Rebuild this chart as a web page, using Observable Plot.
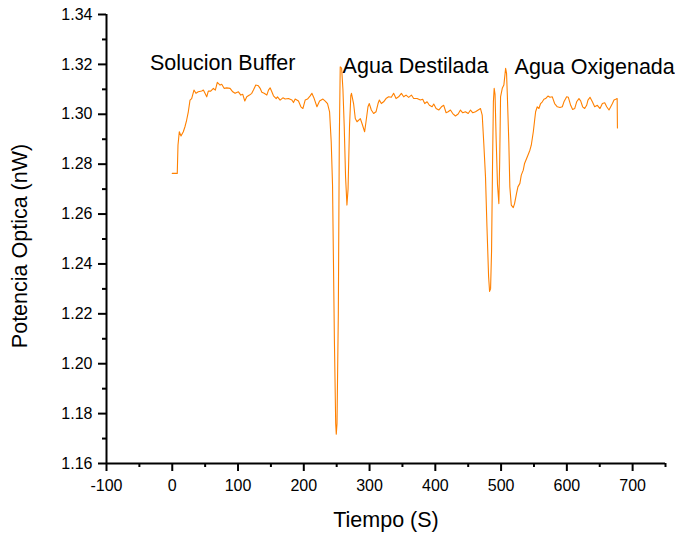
<!DOCTYPE html>
<html>
<head>
<meta charset="utf-8">
<script src="https://cdn.jsdelivr.net/npm/d3@7"></script>
<script src="https://cdn.jsdelivr.net/npm/@observablehq/plot@0.6"></script>
<style>
  html, body { margin: 0; padding: 0; background: #fff; }
  svg { display: block; }
</style>
</head>
<body>
<div id="chart"></div>
<script>
const times = [
  0, 7.6, 8.7, 10.7, 13.3, 16.8, 19.3, 21.9, 24.4, 27, 29.5, 33, 36, 39.6, 44.8, 47.3, 49.8, 52.4, 54.8, 58.5,
  62.5, 65.5, 68.5, 72.7, 75.2, 78.8, 82.9, 87.9, 92, 95.5, 100.6, 104.2, 107.2, 110.3, 113.3, 117.4, 120.9, 123.4,
  127, 131, 133.6, 136.2, 139.7, 143.8, 146.3, 148.8, 151.4, 153.9, 158, 160, 164, 168.2, 171.7, 176.7, 181.9,
  184.3, 186.9, 191.9, 195.6, 198.6, 202.1, 205.6, 209.7, 212.3, 215.8, 220, 224, 229.1, 232.6, 236.1, 239.2,
  241.7, 243.7, 246.5, 248.5, 249.4, 250.5, 252.5, 254, 255.4, 257.5, 259.5, 261.5, 263.5, 265.6, 267.3, 269.5,
  271.5, 272.5, 275.7, 278.3, 280.9, 283.3, 285.9, 288.5, 292.5, 294.6, 297.6, 299.6, 302.7, 306.2, 309.8, 312.9,
  314.9, 317.9, 321.4, 325, 329, 333.1, 336.6, 340.3, 344.2, 348.4, 351.9, 355.5, 359.5, 363.6, 367.1, 372.3,
  377.3, 380.8, 383.9, 387.5, 391, 395.1, 397.6, 401.2, 405.2, 409.3, 412.8, 416.4, 419.5, 423, 426.5, 430.6,
  434.7, 438.2, 441.7, 445.8, 450, 453.5, 457, 461.1, 465.2, 468.7, 471.3, 473.7, 476.3, 478.5, 481, 482.5, 484,
  485.5, 487, 488.3, 489.5, 490.8, 492.5, 494.5, 496.6, 497.8, 499.2, 501.8, 504.2, 506.9, 508.3, 509.4, 511.8,
  513.3, 515.5, 518.5, 520.5, 523.5, 525.6, 528.6, 530.7, 533.7, 535.7, 538.8, 540.8, 543.8, 545.9, 549, 551,
  552.5, 555, 557.5, 560.1, 562.7, 565.1, 567.7, 571.2, 574.3, 577.9, 581.4, 585.5, 589.5, 593.1, 595.6, 599.7,
  602.3, 605.8, 608.8, 611.9, 614.9, 618.4, 621, 624, 627.1, 630.1, 632.1, 635.2, 638.8, 642.3, 646.4, 650.4,
  654, 657.6, 660.6, 664.1, 666.7, 669.3, 671.7, 674.3, 676.5, 676.9
];
const power = [
  1.2763, 1.2763, 1.2876, 1.2930, 1.2913, 1.2930, 1.2950, 1.2977, 1.3010, 1.3057, 1.3063, 1.3097, 1.3084, 1.3090, 1.3093, 1.3097, 1.3084, 1.3070, 1.3093, 1.3093,
  1.3104, 1.3097, 1.3128, 1.3117, 1.3120, 1.3104, 1.3106, 1.3104, 1.3090, 1.3084, 1.3090, 1.3077, 1.3080, 1.3053, 1.3070, 1.3077, 1.3084, 1.3097,
  1.3117, 1.3114, 1.3104, 1.3088, 1.3084, 1.3077, 1.3097, 1.3106, 1.3090, 1.3074, 1.3063, 1.3070, 1.3057, 1.3066, 1.3061, 1.3063, 1.3057,
  1.3047, 1.3061, 1.3053, 1.3030, 1.3023, 1.3057, 1.3061, 1.3074, 1.3084, 1.3063, 1.3030, 1.3053, 1.3061, 1.3053, 1.3043, 1.3010,
  1.2889, 1.2716, 1.2100, 1.1760, 1.1717, 1.1760, 1.2200, 1.2900, 1.3190, 1.3185, 1.3100, 1.2950, 1.2750, 1.2636, 1.2700, 1.2950,
  1.3075, 1.3084, 1.3043, 1.2983, 1.2970, 1.2976, 1.2983, 1.2963, 1.2930, 1.2970, 1.3030, 1.3043, 1.3017, 1.3003, 1.3010, 1.3043,
  1.3057, 1.3043, 1.3050, 1.3063, 1.3070, 1.3068, 1.3084, 1.3063, 1.3070, 1.3084, 1.3070, 1.3077, 1.3068, 1.3077, 1.3063, 1.3063,
  1.3057, 1.3060, 1.3043, 1.3050, 1.3036, 1.3030, 1.3041, 1.3023, 1.3017, 1.3030, 1.3036, 1.3006, 1.3010, 1.3017, 1.3003, 1.2993,
  1.3001, 1.3017, 1.3006, 1.3010, 1.3003, 1.3017, 1.3006, 1.3010, 1.3017, 1.3023, 1.2997, 1.2883, 1.2749, 1.2550, 1.2350, 1.2290, 1.2300,
  1.2450, 1.2800, 1.3050, 1.3104, 1.3080, 1.2900, 1.2720, 1.2642, 1.2800, 1.3070, 1.3104, 1.3117, 1.3184, 1.3164, 1.3084, 1.2883,
  1.2709, 1.2636, 1.2626, 1.2642, 1.2683, 1.2709, 1.2723, 1.2756, 1.2776, 1.2803, 1.2823, 1.2836, 1.2856, 1.2876, 1.2930, 1.2976,
  1.3010, 1.3030, 1.3023, 1.3043, 1.3050, 1.3060, 1.3063, 1.3073, 1.3068, 1.3070, 1.3043, 1.3030, 1.3027, 1.3030, 1.3050, 1.3070,
  1.3068, 1.3036, 1.3019, 1.3023, 1.3050, 1.3063, 1.3054, 1.3030, 1.3023, 1.3036, 1.3057, 1.3068, 1.3050, 1.3030, 1.3036, 1.3023,
  1.3043, 1.3046, 1.3030, 1.3017, 1.3030, 1.3043, 1.3057, 1.3060, 1.3063, 1.2945
];

const xTicks = [-100, 0, 100, 200, 300, 400, 500, 600, 700];
const xMinorTicks = [-50, 50, 150, 250, 350, 450, 550, 650, 750];
const yTicks = [1.16, 1.18, 1.20, 1.22, 1.24, 1.26, 1.28, 1.30, 1.32, 1.34];
const yMinorTicks = [1.17, 1.19, 1.21, 1.23, 1.25, 1.27, 1.29, 1.31, 1.33];

const labels = ["Solucion Buffer", "Agua Destilada", "Agua Oxigenada"];
const labelTimes = [-34, 259, 520.5];
const labelPower = [1.3177, 1.3166, 1.3163];

const xTitle = "Tiempo (S)";
const yTitle = "Potencia Optica (nW)";

const series = times.map((t, i) => ({t, v: power[i]}));
const notes = labels.map((s, i) => ({s, t: labelTimes[i], v: labelPower[i]}));

const FONT = "'Liberation Sans', Arial, sans-serif";

const chart = Plot.plot({
  width: 675,
  height: 535,
  marginLeft: 106,
  marginRight: 10,
  marginTop: 14,
  marginBottom: 72,
  style: {fontFamily: FONT, background: "#fff", color: "#000", overflow: "visible"},
  x: {domain: [-100, 750]},
  y: {domain: [1.16, 1.34]},
  marks: [
    Plot.line(series, {x: "t", y: "v", stroke: "#ff8000", strokeWidth: 1.1}),
    Plot.axisX(xTicks, {tickSize: 8, tickPadding: 8, strokeWidth: 2, fontSize: 16, tickFormat: d => String(d), label: null}),
    Plot.axisX(xMinorTicks, {tickSize: 4, strokeWidth: 2, tickFormat: () => "", label: null}),
    Plot.axisY(yTicks, {tickSize: 8, tickPadding: 6, strokeWidth: 2, fontSize: 16, tickFormat: d => d.toFixed(2), label: null}),
    Plot.axisY(yMinorTicks, {tickSize: 4, strokeWidth: 2, tickFormat: () => "", label: null}),
    Plot.ruleY([1.16], {stroke: "#000", strokeWidth: 2}),
    Plot.ruleX([-100], {stroke: "#000", strokeWidth: 2}),
    Plot.text(notes, {x: "t", y: "v", text: "s", textAnchor: "start", lineAnchor: "bottom", fontSize: 21.5, fill: "#000"}),
    Plot.text([xTitle], {frameAnchor: "bottom", text: d => d, textAnchor: "middle", lineAnchor: "bottom", dy: 63, fontSize: 21.5, fill: "#000"}),
    Plot.text([yTitle], {frameAnchor: "left", text: d => d, textAnchor: "middle", lineAnchor: "bottom", rotate: -90, dx: -80, dy: 7, fontSize: 21.5, fill: "#000"})
  ]
});
document.getElementById("chart").appendChild(chart);
</script>
</body>
</html>
